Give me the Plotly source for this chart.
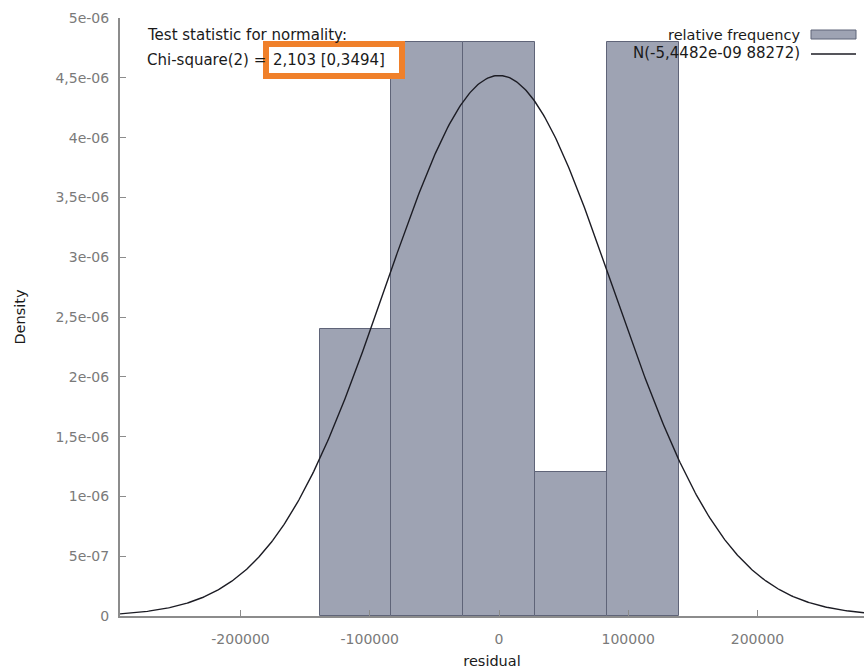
import numpy as np
import plotly.graph_objects as go

# Histogram of residuals (relative frequency, scaled as density)
bin_centers = [-111111, -55556, 0, 55556, 111111]
bin_width = 55556
densities = [2.4e-06, 4.8e-06, 4.8e-06, 1.2e-06, 4.8e-06]

# Fitted normal distribution
norm_mean = -5.4482e-09
norm_sd = 88272

x_ticks = [-200000, -100000, 0, 100000, 200000]
x_ticktext = ["-200000", "-100000", "0", "100000", "200000"]
y_ticks = [0, 5e-07, 1e-06, 1.5e-06, 2e-06, 2.5e-06, 3e-06, 3.5e-06, 4e-06, 4.5e-06, 5e-06]
y_ticktext = ["0", "5e-07", "1e-06", "1,5e-06", "2e-06", "2,5e-06", "3e-06",
              "3,5e-06", "4e-06", "4,5e-06", "5e-06"]

x_range = [-293250, 282400]
y_range = [0, 5e-06]

FONT = "DejaVu Sans"
BAR_FILL = "#9ea3b3"
BAR_EDGE = "#5f6478"
AXIS_GREY = "#8c8c8c"
TEXT = "#1a1a1a"

xs = np.linspace(x_range[0], x_range[1], 600)
pdf = np.exp(-0.5 * ((xs - norm_mean) / norm_sd) ** 2) / (norm_sd * np.sqrt(2 * np.pi))

fig = go.Figure()
fig.add_trace(go.Bar(
    x=bin_centers, y=densities, width=[bin_width] * len(bin_centers),
    marker=dict(color=BAR_FILL, line=dict(color=BAR_EDGE, width=1)),
    showlegend=False, hoverinfo="skip",
))
fig.add_trace(go.Scatter(
    x=xs, y=pdf, mode="lines", line=dict(color="#1c1c24", width=1.4),
    showlegend=False, hoverinfo="skip",
))

W, H = 864, 671
L, R, T, B = 120, 0, 18, 55
pw, ph = W - L - R, H - T - B


def px(x):
    return (x - L) / pw


def py(y):
    return (H - B - y) / ph


shapes = [
    # highlight box around the test result
    dict(type="rect", xref="paper", yref="paper",
         x0=px(266), x1=px(402), y0=py(76), y1=py(44),
         fillcolor="white", line=dict(color="#f0802a", width=6), layer="above"),
    # legend swatch for the histogram
    dict(type="rect", xref="paper", yref="paper",
         x0=px(811), x1=px(856), y0=py(39), y1=py(30),
         fillcolor=BAR_FILL, line=dict(color=BAR_EDGE, width=1), layer="above"),
    # legend sample for the normal curve
    dict(type="line", xref="paper", yref="paper",
         x0=px(811), x1=px(856), y0=py(54), y1=py(54),
         line=dict(color="#1c1c24", width=1.4), layer="above"),
]

annotations = [
    dict(text="Test statistic for normality:", x=px(145), y=py(35),
         xanchor="left", yanchor="middle", font_size=15),
    dict(text="Chi-square(2) =", x=px(145), y=py(60),
         xanchor="left", yanchor="middle", font_size=15),
    dict(text="2,103 [0,3494]", x=px(271), y=py(60),
         xanchor="left", yanchor="middle", font_size=15),
    dict(text="relative frequency", x=px(802), y=py(35),
         xanchor="right", yanchor="middle", font_size=14.5),
    dict(text="N(-5,4482e-09 88272)", x=px(802), y=py(53),
         xanchor="right", yanchor="middle", font_size=15),
]
for a in annotations:
    size = a.pop("font_size")
    a.update(xref="paper", yref="paper", showarrow=False,
             font=dict(family=FONT, size=size, color=TEXT))

fig.update_layout(
    width=W, height=H,
    margin=dict(l=L, r=R, t=T, b=B, pad=0),
    paper_bgcolor="white", plot_bgcolor="white",
    bargap=0,
    shapes=shapes, annotations=annotations,
    font=dict(family=FONT, size=14, color=TEXT),
    xaxis=dict(
        range=x_range, tickvals=x_ticks, ticktext=x_ticktext,
        ticks="inside", ticklen=6, tickcolor=AXIS_GREY, tickwidth=1,
        showline=True, linecolor=AXIS_GREY, linewidth=2,
        showgrid=False, zeroline=False,
        tickfont=dict(family=FONT, size=14, color="#7a7a7a"),
        ticklabelstandoff=9,
        title=dict(text="residual", font=dict(family=FONT, size=14.5, color=TEXT),
                   standoff=10),
    ),
    yaxis=dict(
        range=y_range, tickvals=y_ticks, ticktext=y_ticktext,
        ticks="inside", ticklen=6, tickcolor=AXIS_GREY, tickwidth=1,
        showline=True, linecolor=AXIS_GREY, linewidth=2,
        showgrid=False, zeroline=False,
        tickfont=dict(family=FONT, size=14, color="#7a7a7a"),
        ticklabelstandoff=6,
        title=dict(text="Density", font=dict(family=FONT, size=14.5, color=TEXT),
                   standoff=26),
    ),
)

fig.write_html("out.html")
